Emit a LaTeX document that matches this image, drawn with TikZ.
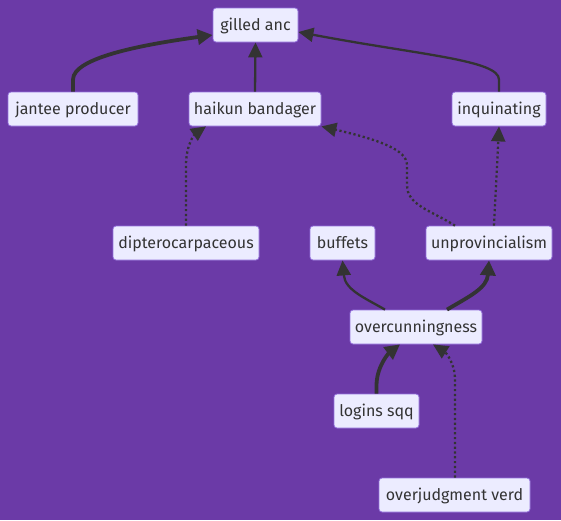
\documentclass[tikz,border=0pt]{standalone}
\usepackage{fontspec}
\setmainfont{Fira Sans}
\usetikzlibrary{arrows.meta}
\definecolor{bgc}{RGB}{107,58,167}
\definecolor{nodefill}{RGB}{236,236,255}
\definecolor{nodeline}{RGB}{147,112,219}
\definecolor{edgec}{RGB}{51,51,51}
\tikzset{
  box/.style={rectangle, rounded corners=3pt, fill=nodefill, draw=nodeline, line width=0.8pt,
    minimum height=34pt, inner sep=0pt, text=edgec, text height=13.5pt, text depth=2.5pt, font=\fontsize{16pt}{19pt}\selectfont},
  edge/.style={draw=edgec, line width=2.3pt, -{Triangle[length=15pt,width=14pt]}},
  thickedge/.style={edge, line width=3.8pt, -{Triangle[length=15pt,width=15pt]}},
  dotedge/.style={edge, line width=2.3pt, dash pattern=on 2.2pt off 2.6pt},
}
\begin{document}
\begin{tikzpicture}[x=1pt,y=-1pt]
\fill[bgc] (0,0) rectangle (561,520);
\useasboundingbox (0,0) rectangle (561,520);
\node[box, minimum width=85pt] (g) at (255.5,25) {gilled anc};
\node[box, minimum width=130pt] (j) at (73,109) {jantee producer};
\node[box, minimum width=132pt] (h) at (255,109) {haikun bandager};
\node[box, minimum width=94pt] (i) at (499,109) {inquinating};
\node[box, minimum width=146pt] (d) at (186,243) {dipterocarpaceous};
\node[box, minimum width=65pt] (b) at (342.5,243) {buffets};
\node[box, minimum width=126pt] (u) at (489,243) {unprovincialism};
\node[box, minimum width=132pt] (o) at (416,327) {overcunningness};
\node[box, minimum width=85pt] (l) at (376.5,411) {logins sqq};
\node[box, minimum width=151pt] (v) at (454.5,495) {overjudgment verd};

\draw[thickedge] (j.north) -- ++(0,-12) .. controls (73,58) and (140,45) .. (g.south west |- 0,35);
\draw[edge] (h.north) -- (g.south);
\draw[edge] (i.north) -- ++(0,-12) .. controls (499,60) and (420,55) .. (g.east |- 0,32);
\draw[dotedge] (d.north -| 186,0) -- ++(0,-60) .. controls (186,144) and (195,134) .. (h.south -| 206,0);
\draw[dotedge] (u.north -| 455,0) .. controls (430,210) and (407,205) .. (407,185) -- (407,165) .. controls (407,150) and (380,140) .. (h.south east);
\draw[dotedge] (u.north -| 494,0) -- (i.south);
\draw[edge] (o.north -| 385,0) .. controls (365,298) and (345,290) .. (b.south);
\draw[thickedge] (o.north -| 447,0) .. controls (470,296) and (487,288) .. (u.south);
\draw[thickedge] (l.north) -- ++(0,-9) .. controls (377,365) and (390,352) .. (o.south -| 400,0);
\draw[dotedge] (v.north -| 455,0) -- (455,380) .. controls (455,362) and (445,352) .. (o.south -| 433,0);
\end{tikzpicture}
\end{document}
